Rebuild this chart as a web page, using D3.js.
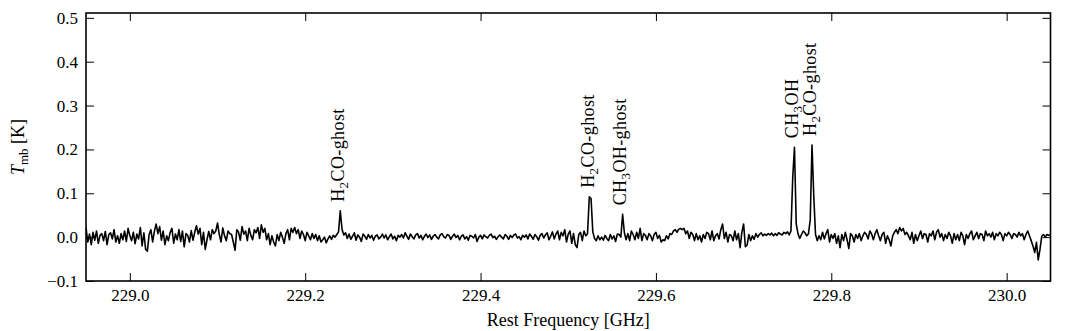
<!DOCTYPE html>
<html>
<head>
<meta charset="utf-8">
<script src="https://cdn.jsdelivr.net/npm/d3@7"></script>
<style>
body{margin:0;background:#fff;}
svg{display:block;font-family:"Liberation Serif","DejaVu Serif",serif;}
.axis text{font-family:"Liberation Serif","DejaVu Serif",serif;font-size:17px;fill:#000;}
.axis line{stroke:#000;stroke-width:1;}
.label{font-size:18px;fill:#000;}
.peak-label{font-size:18px;fill:#000;letter-spacing:0.4px;}
</style>
</head>
<body>
<div id="chart"></div>
<script>
// spectrum: first channel + channel width (GHz)
const freqStart = 228.95;
const channelWidth = 0.002;
// Tmb per channel, mK
const tmbMilliK = [
  22, -11, 7, -17, 11, -7, 14, -14, 4, 8,        // 0
  -8, 13, -17, 6, 10, -4, 17, -11, 3, -14,
  8, -6, 14, -10, 20, 3, -8, 11, -15, 7,
  -4, 22, -20, 10, -28, -32, 6, 17, -11, 13,
  30, 8, 24, -7, 14, -17, 3, -8, 11, 20,
  -14, 7, -6, 17, -10, 14, -22, 8, 4, -11,       // 50
  15, -7, 11, 26, 7, 20, -17, 11, -28, -6,
  13, -6, 17, 8, 14, 32, 6, -11, 21, 3,
  -8, 14, 8, 6, -11, -30, 17, 11, -7, 24,
  7, 14, -8, 20, 4, -6, 17, 10, 22, -3,
  28, 11, 20, -6, 8, -17, 3, -11, -20, 6,        // 100
  -8, 11, 0, -14, 8, 17, -6, 20, 11, 22,
  8, 17, -3, 14, 6, -8, 11, 3, -6, 8,
  -3, 6, -8, 3, -11, -6, 0, -13, -4, 3,
  -5, 4, 0, 6, 12, 60, 18, 5, 10, -3,
  7, -5, 2, 10, -7, 5, 0, -10, 7, 2,             // 150
  -5, 6, -2, 4, -7, 2, 5, -4, 0, 7,
  -2, 5, -6, 1, 7, -4, 2, -8, 4, 0,
  6, -2, 10, 2, -5, 7, 1, -4, 5, 8,
  -2, 4, -6, 2, 7, -1, 5, -5, 2, 6,
  0, -4, 5, 8, 1, -2, 6, 4, -5, 2,               // 200
  7, -1, 4, -6, 2, 5, -4, 1, -7, 4,
  2, -2, 6, -10, 0, 4, -4, 5, 1, -2,
  4, 7, -1, 2, -5, 1, 5, 0, -4, 6,
  2, -5, 4, -1, 5, 7, -2, 1, -6, 4,
  0, 5, -4, 7, 2, -5, 6, 1, -7, 4,               // 250
  8, -2, 5, 10, -6, 2, 12, -4, 7, 14,
  -6, 11, 3, 17, -11, 7, 14, -14, 8, -17,
  -24, 6, 11, -8, 14, 3, 8, 92, 88, 12,
  -3, -8, 3, -6, 0, -7, 4, -3, -8, 6,
  -4, 3, -10, 7, 6, 0, 52, 10, -6, 8,            // 300
  -8, 14, 6, -6, 11, -3, 20, -8, 8, 4,
  -6, 8, 3, -8, 6, 11, -3, 4, -11, -6,
  -8, 3, -4, 8, 6, 14, 17, 11, 18, 20,
  17, 20, 8, 14, -3, 11, 6, -8, 8, -6,
  3, -11, 6, -3, 11, 8, -6, 14, -8, 3,           // 350
  8, -4, 17, 30, -3, 11, -11, 6, 3, -8,
  14, -6, 8, -24, 11, 30, -22, -18, 6, -8,
  3, -5, 8, 0, 6, 10, 3, 7, 4, 8,
  5, 9, 3, 8, 4, 10, 7, 5, 11, 8,
  12, 5, 14, 135, 205, 30, 8, -3, 6, 14,         // 400
  10, 3, 8, 40, 210, 95, 6, -8, 3, -6,
  11, -4, 8, 17, -11, 6, -3, 8, -14, 3,
  -24, 6, -8, 11, -6, -26, 8, 3, -11, 6,
  -3, 8, -8, 3, 11, 6, -4, 14, 7, -6,
  8, 17, 3, -8, 6, 11, -14, 3, -6, -20,          // 450
  3, 11, 17, 8, 22, 14, 20, 6, 11, 3,
  -6, 11, -14, 6, -8, 3, 14, -3, 8, 6,
  -11, 8, 3, 14, -6, 11, 17, 0, 8, -8,
  6, -3, 11, 3, -14, 8, -6, 6, -8, 11,
  3, -17, 6, -3, 8, 14, -6, 3, 11, -3,           // 500
  8, 6, -8, 14, 3, 8, 0, 11, -6, 8,
  3, 11, 6, -8, 8, 3, 11, 6, -3, 8,
  6, 0, 11, 3, 8, -6, 6, 14, 3, -8,
  -20, -35, -12, -52, -28, 2, 6, 0, 6, 4, 6      // 540
];
const xDomain = [228.95, 230.05];
const yDomain = [-0.1, 0.511];
const xTicks = [229.0, 229.2, 229.4, 229.6, 229.8, 230.0];
const yTicks = [-0.1, 0.0, 0.1, 0.2, 0.3, 0.4, 0.5];
// line identifications ("_" marks a subscript digit)
const lineFreqs = [229.240, 229.525, 229.562, 229.758, 229.778];
const lineLabels = ["H_2CO-ghost", "H_2CO-ghost", "CH_3OH-ghost", "CH_3OH", "H_2CO-ghost"];

const spectrum = tmbMilliK.map((v, i) => ({freq: freqStart + i * channelWidth, tmb: v / 1000}));

const width = 1072, height = 331;
const margin = {top: 13, right: 21.5, bottom: 50, left: 86};

const svg = d3.select('#chart').append('svg')
  .attr('width', width).attr('height', height);

const x = d3.scaleLinear().domain(xDomain).range([margin.left, width - margin.right]);
const y = d3.scaleLinear().domain(yDomain).range([height - margin.bottom, margin.top]);
const fmt = d3.format('.1f');

// axes, ticks pointing inwards on all four sides
svg.append('g').attr('class', 'axis')
  .attr('transform', `translate(0,${height - margin.bottom})`)
  .call(d3.axisBottom(x).tickValues(xTicks).tickFormat(fmt).tickSizeInner(-8).tickSizeOuter(0).tickPadding(8));
svg.append('g').attr('class', 'axis')
  .attr('transform', `translate(0,${margin.top})`)
  .call(d3.axisTop(x).tickValues(xTicks).tickFormat('').tickSizeInner(-8).tickSizeOuter(0));
svg.append('g').attr('class', 'axis')
  .attr('transform', `translate(${margin.left},0)`)
  .call(d3.axisLeft(y).tickValues(yTicks).tickFormat(fmt).tickSizeInner(-8).tickSizeOuter(0).tickPadding(8));
svg.append('g').attr('class', 'axis')
  .attr('transform', `translate(${width - margin.right},0)`)
  .call(d3.axisRight(y).tickValues(yTicks).tickFormat('').tickSizeInner(-8).tickSizeOuter(0));
svg.selectAll('.axis .domain').remove();
svg.selectAll('.axis').attr('font-family', null).attr('font-size', null);

// clip + spectrum
svg.append('clipPath').attr('id', 'plot-clip').append('rect')
  .attr('x', margin.left).attr('y', margin.top)
  .attr('width', width - margin.left - margin.right)
  .attr('height', height - margin.top - margin.bottom);

const line = d3.line()
  .x(d => x(d.freq))
  .y(d => y(d.tmb));

svg.append('path')
  .datum(spectrum)
  .attr('clip-path', 'url(#plot-clip)')
  .attr('d', line)
  .attr('fill', 'none')
  .attr('stroke', '#000')
  .attr('stroke-width', 1.6)
  .attr('stroke-linejoin', 'round');

// frame
svg.append('rect')
  .attr('x', margin.left).attr('y', margin.top)
  .attr('width', width - margin.left - margin.right)
  .attr('height', height - margin.top - margin.bottom)
  .attr('fill', 'none').attr('stroke', '#000').attr('stroke-width', 1.6);

// annotations, placed just above the peak of each line
function addLabel(g, str) {
  const parts = str.split(/_(\d)/);
  parts.forEach((p, k) => {
    if (!p) return;
    const t = g.append('tspan').text(p);
    if (k % 2 === 1) t.attr('font-size', 13).attr('dy', 4);
    else if (k > 0) t.attr('dy', -4);
  });
}

lineFreqs.forEach((f, k) => {
  const peak = d3.max(spectrum.filter(d => Math.abs(d.freq - f) <= 0.0021), d => d.tmb);
  const t = svg.append('text')
    .attr('class', 'peak-label')
    .attr('transform', `translate(${x(f)},${y(peak) - 9}) rotate(-90)`)
    .attr('dy', '0.2em')
    .attr('text-anchor', 'start');
  addLabel(t, lineLabels[k]);
});

// axis titles
const yLab = svg.append('text').attr('class', 'label')
  .attr('transform', `translate(24,${(margin.top + height - margin.bottom) / 2}) rotate(-90)`)
  .attr('text-anchor', 'middle');
yLab.append('tspan').text('T').attr('font-style', 'italic');
yLab.append('tspan').text('mb').attr('font-size', 13).attr('dy', 4);
yLab.append('tspan').text(' [K]').attr('dy', -4);

svg.append('text').attr('class', 'label')
  .attr('x', (margin.left + width - margin.right) / 2)
  .attr('y', 326)
  .attr('text-anchor', 'middle')
  .text('Rest Frequency [GHz]');
</script>
</body>
</html>
